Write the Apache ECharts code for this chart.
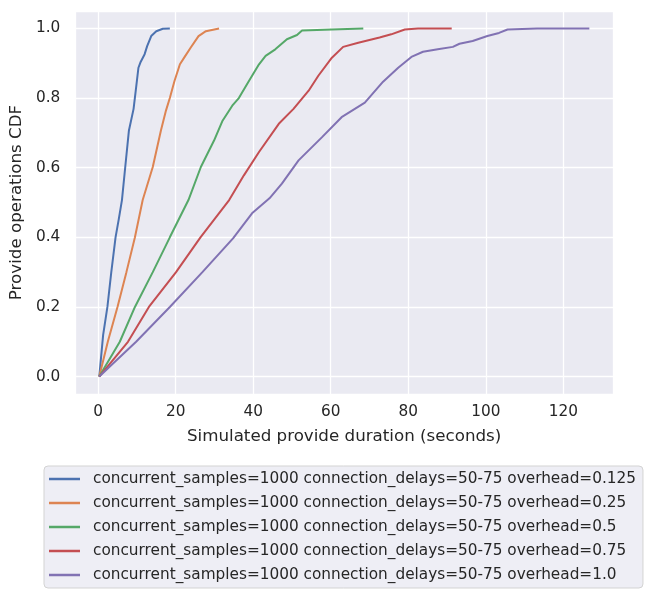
<!DOCTYPE html>
<html>
<head>
<meta charset="utf-8">
<script src="https://cdn.jsdelivr.net/npm/echarts@6/dist/echarts.min.js"></script>
<style>
html,body{margin:0;padding:0;background:#fff;}
#chart{width:650px;height:599px;}
</style>
</head>
<body>
<div id="chart"></div>
<script>
// Series names
const seriesNames = [
  "concurrent_samples=1000 connection_delays=50-75 overhead=0.125",
  "concurrent_samples=1000 connection_delays=50-75 overhead=0.25",
  "concurrent_samples=1000 connection_delays=50-75 overhead=0.5",
  "concurrent_samples=1000 connection_delays=50-75 overhead=0.75",
  "concurrent_samples=1000 connection_delays=50-75 overhead=1.0"
];

// overhead=0.125
const x0125 = [0.3, 1.3, 2.4, 3.4, 4.5, 5.3, 6.15, 7.0, 7.95, 9.15, 9.8, 10.4, 10.9, 12.0, 12.65, 13.7, 15.0, 16.7, 18.5];
const y0125 = [0, 0.12, 0.2, 0.3, 0.4, 0.45, 0.507, 0.602, 0.707, 0.769, 0.83, 0.887, 0.902, 0.926, 0.949, 0.978, 0.992, 0.999, 1.0];

// overhead=0.25
const x025 = [0.3, 2.5, 5.0, 7.3, 9.5, 11.5, 14.1, 16.2, 17.5, 18.5, 19.7, 21.1, 22.2, 23.9, 25.9, 27.8, 31.2];
const y025 = [0, 0.1, 0.2, 0.3, 0.4, 0.507, 0.602, 0.707, 0.764, 0.80, 0.849, 0.897, 0.916, 0.945, 0.978, 0.992, 1.0];

// overhead=0.5
const x05 = [0.3, 5.6, 9.5, 14.1, 18.5, 23.3, 26.5, 29.9, 32.1, 34.6, 36.3, 38.9, 41.5, 43.2, 45.7, 48.7, 51.3, 52.6, 60.3, 68.4];
const y05 = [0, 0.1, 0.2, 0.3, 0.4, 0.507, 0.602, 0.678, 0.735, 0.778, 0.80, 0.849, 0.897, 0.921, 0.94, 0.969, 0.981, 0.994, 0.997, 1.0];

// overhead=0.75
const x075 = [0.3, 7.7, 13.1, 20.1, 26.4, 33.8, 37.6, 41.5, 46.6, 50.4, 54.3, 56.8, 60.3, 63.2, 67.1, 72.6, 75.6, 79.1, 82.5, 91.2];
const y075 = [0, 0.1, 0.2, 0.3, 0.4, 0.507, 0.578, 0.645, 0.726, 0.769, 0.821, 0.864, 0.916, 0.947, 0.959, 0.974, 0.983, 0.997, 1.0, 1.0];

// overhead=1.0
const x10 = [0.3, 9.8, 18.5, 26.9, 34.8, 39.7, 44.2, 47.4, 51.7, 57.7, 62.8, 68.8, 73.5, 77.4, 80.8, 83.8, 87.6, 91.5, 93.2, 96.6, 100.4, 103.4, 105.6, 113.2, 126.7];
const y10 = [0, 0.1, 0.2, 0.3, 0.397, 0.469, 0.512, 0.554, 0.621, 0.687, 0.745, 0.787, 0.847, 0.887, 0.918, 0.933, 0.94, 0.947, 0.956, 0.964, 0.978, 0.987, 0.997, 1.0, 1.0];

const allX = [x0125, x025, x05, x075, x10];
const allY = [y0125, y025, y05, y075, y10];
const colors = ['#4c72b0', '#dd8452', '#55a868', '#c44e52', '#8172b3'];

const textColor = '#262626';
const fontFamily = 'DejaVu Sans';

const chart = echarts.init(document.getElementById('chart'), null, {renderer: 'canvas'});

const series = seriesNames.map((name, i) => ({
  name: name,
  type: 'line',
  data: allX[i].map((x, j) => [x, allY[i][j]]),
  symbol: 'none',
  lineStyle: {color: colors[i], width: 2},
  itemStyle: {color: colors[i]},
  animation: false,
  z: 3
}));

chart.setOption({
  backgroundColor: '#ffffff',
  animation: false,
  color: colors,
  grid: {
    left: 72, right: 37, top: 11, bottom: 205,
    show: true, backgroundColor: '#eaeaf2', borderWidth: 0
  },
  xAxis: {
    type: 'value',
    min: -5.9, max: 132.8,
    splitNumber: 7,
    name: 'Simulated provide duration (seconds)',
    nameLocation: 'middle',
    nameGap: 34,
    nameTextStyle: {color: textColor, fontSize: 16.7, fontFamily: fontFamily},
    axisLine: {show: false},
    axisTick: {show: false},
    axisLabel: {color: textColor, fontSize: 15.3, fontFamily: fontFamily, margin: 11,
      showMinLabel: false, showMaxLabel: false},
    splitLine: {show: true, lineStyle: {color: '#ffffff', width: 1.3}}
  },
  yAxis: {
    type: 'value',
    min: -0.05, max: 1.05,
    splitNumber: 5,
    name: 'Provide operations CDF',
    nameLocation: 'middle',
    nameGap: 42,
    nameTextStyle: {color: textColor, fontSize: 16.7, fontFamily: fontFamily},
    axisLine: {show: false},
    axisTick: {show: false},
    axisLabel: {color: textColor, fontSize: 15.3, fontFamily: fontFamily, margin: 15,
      showMinLabel: false, showMaxLabel: false,
      formatter: v => v.toFixed(1)},
    splitLine: {show: true, lineStyle: {color: '#ffffff', width: 1.3}}
  },
  legend: {
    orient: 'vertical',
    left: 44, top: 466,
    padding: [4, 7, 4, 5],
    itemWidth: 31,
    itemHeight: 2.5,
    itemGap: 6,
    icon: 'rect',
    backgroundColor: 'rgba(234,234,242,0.8)',
    borderColor: '#d3d3d3',
    borderWidth: 1,
    borderRadius: 4,
    textStyle: {color: textColor, fontSize: 15.3, fontFamily: fontFamily, lineHeight: 18, padding: [0, 0, 0, 8]},
    data: seriesNames
  },
  series: series
});
</script>
</body>
</html>
